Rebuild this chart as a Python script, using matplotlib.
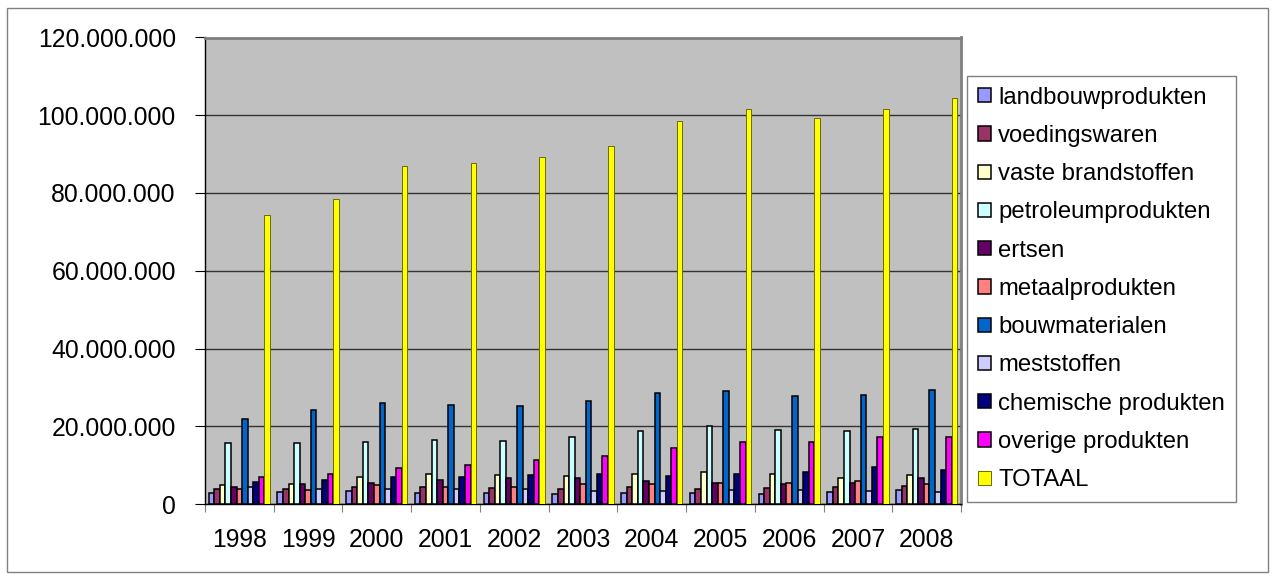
import matplotlib
matplotlib.use('Agg')
import matplotlib.pyplot as plt
import numpy as np
from matplotlib.patches import Rectangle

plt.rcParams['font.family'] = ['Liberation Sans', 'DejaVu Sans']

years = ['1998', '1999', '2000', '2001', '2002', '2003', '2004', '2005', '2006', '2007', '2008']

# values in million
landbouwprodukten = [2.8, 3.2, 3.4, 2.8, 2.9, 2.6, 2.8, 2.9, 2.7, 3.2, 3.5]
voedingswaren = [3.9, 3.8, 4.3, 4.5, 4.0, 3.9, 4.5, 3.9, 4.1, 4.4, 4.7]
vaste_brandstoffen = [5.0, 5.2, 7.0, 7.6, 7.5, 7.1, 7.8, 8.2, 7.7, 6.7, 7.5]
petroleumprodukten = [15.8, 15.6, 16.0, 16.4, 16.3, 17.2, 18.7, 20.1, 19.1, 18.8, 19.2]
ertsen = [4.5, 5.2, 5.4, 6.2, 6.7, 6.6, 6.0, 5.4, 5.2, 5.4, 6.6]
metaalprodukten = [3.9, 3.5, 4.8, 4.5, 4.4, 5.2, 5.2, 5.4, 5.5, 5.8, 5.2]
bouwmaterialen = [21.8, 24.3, 26.1, 25.4, 25.2, 26.5, 28.6, 29.0, 27.7, 28.1, 29.2]
meststoffen = [4.3, 3.9, 3.9, 3.8, 3.9, 3.4, 3.4, 3.6, 3.5, 3.4, 3.1]
chemische_produkten = [5.7, 6.2, 7.0, 7.0, 7.4, 7.6, 7.3, 7.6, 8.3, 9.4, 8.7]
overige_produkten = [7.0, 7.6, 9.2, 10.0, 11.4, 12.3, 14.3, 15.9, 15.9, 17.2, 17.2]
totaal = [74.3, 78.4, 86.9, 87.6, 89.2, 92.0, 98.4, 101.5, 99.2, 101.7, 104.5]

series = [
    ('landbouwprodukten', landbouwprodukten, '#9999FF'),
    ('voedingswaren', voedingswaren, '#993366'),
    ('vaste brandstoffen', vaste_brandstoffen, '#FFFFCC'),
    ('petroleumprodukten', petroleumprodukten, '#CCFFFF'),
    ('ertsen', ertsen, '#660066'),
    ('metaalprodukten', metaalprodukten, '#FF8080'),
    ('bouwmaterialen', bouwmaterialen, '#0066CC'),
    ('meststoffen', meststoffen, '#CCCCFF'),
    ('chemische produkten', chemische_produkten, '#000080'),
    ('overige produkten', overige_produkten, '#FF00FF'),
    ('TOTAAL', totaal, '#FFFF00'),
]

fig = plt.figure(figsize=(12.74, 5.79), dpi=100)
fig.patches.append(Rectangle((7 / 1274, 1 - 572 / 579), 1261 / 1274, 564 / 579,
                             transform=fig.transFigure, fill=False,
                             edgecolor='#808080', linewidth=1))
ax = fig.add_axes([205 / 1274, 1 - 504 / 579, 756 / 1274, 466.5 / 579])
ax.set_facecolor('#C0C0C0')

x = np.arange(len(years))
barWidth = 0.081
n = len(series)
for j, (name, vals, col) in enumerate(series):
    v = np.array(vals) * 1e6
    if name == 'TOTAAL':
        ax.bar(x + (j - (n - 1) / 2) * barWidth, v, width=barWidth, color=col,
               edgecolor='#6B6B00', linewidth=0.7, label=name, zorder=3)
    else:
        ax.bar(x + (j - (n - 1) / 2) * barWidth, v, width=barWidth, color=col,
               edgecolor='black', linewidth=1.1, label=name, zorder=3)

ax.set_xlim(-0.5, len(years) - 0.5)
ax.set_ylim(0, 120e6)
yt = np.arange(0, 120e6 + 1, 20e6)
ax.set_yticks(yt)
ax.set_yticklabels([f'{int(t):,}'.replace(',', '.') for t in yt])
ax.yaxis.grid(True, color='#333333', linewidth=1, zorder=1)
ax.set_axisbelow(True)

ax.set_xticks(np.arange(-0.5, len(years), 1.0))
ax.set_xticklabels([])
ax.set_xticks(x, minor=True)
ax.set_xticklabels(years, minor=True)
ax.tick_params(axis='x', which='minor', length=0, pad=17, labelsize=17.8)
ax.tick_params(axis='x', which='major', length=6, color='#808080', direction='out')
ax.tick_params(axis='y', length=7, pad=14, labelsize=17.8, direction='out')

for s in ['top', 'right']:
    ax.spines[s].set_color('#808080')
    ax.spines[s].set_linewidth(2)
for s in ['left', 'bottom']:
    ax.spines[s].set_color('black')
    ax.spines[s].set_linewidth(1)

leg = fig.legend(loc='upper left', bbox_to_anchor=(967 / 1274, 1 - 76 / 579),
                 bbox_transform=fig.transFigure, fontsize=17.2, frameon=True,
                 fancybox=False, framealpha=1, edgecolor='#808080',
                 handlelength=0.55, handleheight=0.55, handletextpad=0.3,
                 labelspacing=0.68, borderpad=0.45, borderaxespad=0)
leg.get_frame().set_linewidth(1)

plt.savefig('out.png', dpi=100)
